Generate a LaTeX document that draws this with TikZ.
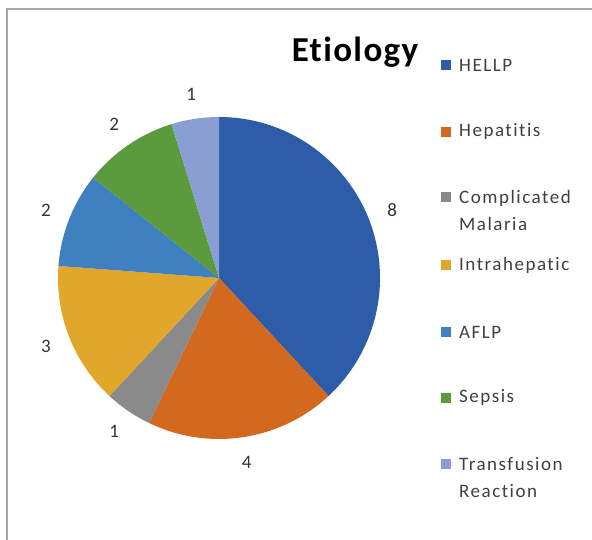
\documentclass[tikz,border=0pt]{standalone}
\usepackage{fontspec}
\setmainfont{Carlito}[Ligatures=NoCommon]
\usetikzlibrary{positioning}

\definecolor{hellp}{HTML}{2D5CA9}
\definecolor{hepatitis}{HTML}{D2691F}
\definecolor{malaria}{HTML}{8A8A8A}
\definecolor{intra}{HTML}{E0A72A}
\definecolor{aflp}{HTML}{3F80C0}
\definecolor{sepsis}{HTML}{5B9A3D}
\definecolor{transf}{HTML}{8A9ED3}

\begin{document}
\begin{tikzpicture}[x=1pt,y=1pt,
   slicelabel/.style={font=\fontsize{19}{21}\selectfont,text=black!80},
   legbox/.style={minimum size=10pt,inner sep=0pt},
   legtext/.style={anchor=west,align=left,inner sep=0pt,
      font=\fontsize{19}{27}\selectfont\addfontfeature{LetterSpace=8},text=black!75}]
   \useasboundingbox (0,0) rectangle (592,540);
   \draw[gray!70,line width=2pt] (7,0) -- (7,531) -- (592,531);

   \coordinate (c) at (219,262);
   % slices, clockwise from the top
   \foreach \from/\to/\col/\val/\name in {90/-47.143/hellp/8/hellp,
      -47.143/-115.714/hepatitis/4/hepatitis,
      -115.714/-132.857/malaria/1/malaria,
      -132.857/-184.286/intra/3/intra,
      -184.286/-218.571/aflp/2/aflp,
      -218.571/-252.857/sepsis/2/sepsis,
      -252.857/-270/transf/1/transf}
   {
      \fill[\col] (c) -- ++(\from:161) arc[start angle=\from,end angle=\to,radius=161] -- cycle;
      \pgfmathsetmacro\midang{(\from+\to)/2}
      \node[slicelabel] (lbl-\name) at ([shift={(\midang:186)}]c) {\val};
   }

   \node[font=\bfseries\fontsize{35}{40}\selectfont\addfontfeature{LetterSpace=4},anchor=base] (title) at (355,478) {Etiology};

   % legend
   \foreach \y/\dy/\col/\txt/\name in {475/0/hellp/HELLP/hellp,
      408/0/hepatitis/Hepatitis/hepatitis,
      343/-13.5/malaria/{Complicated\\Malaria}/malaria,
      275/0/intra/Intrahepatic/intra,
      208/0/aflp/AFLP/aflp,
      142/0/sepsis/Sepsis/sepsis,
      76/-13.5/transf/{Transfusion\\Reaction}/transf}
   {
      \node[legbox,fill=\col] (box-\name) at (446,\y) {};
      \node[legtext] (leg-\name) at (459,\y+\dy) {\txt};
   }
\end{tikzpicture}
\end{document}
